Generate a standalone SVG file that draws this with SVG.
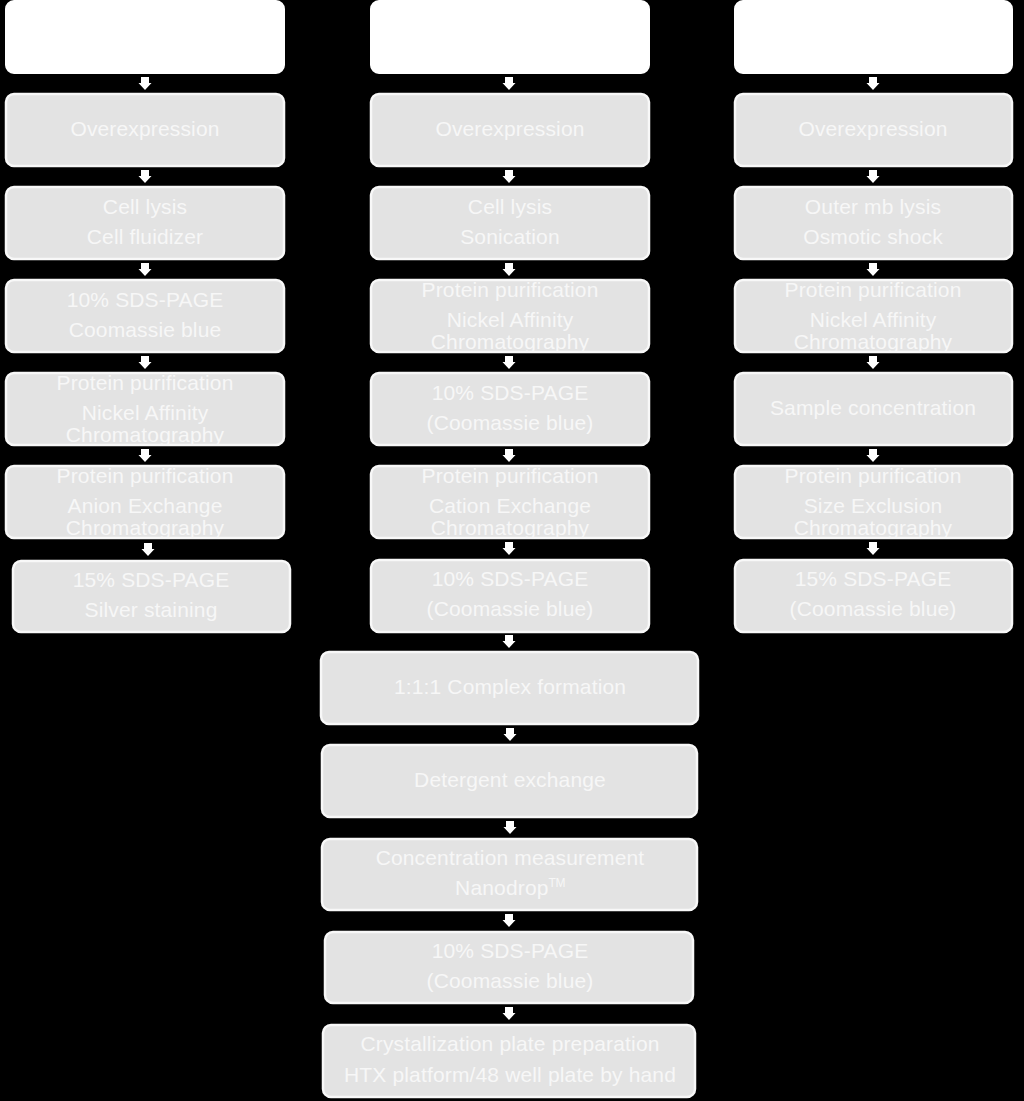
<svg xmlns="http://www.w3.org/2000/svg" width="1024" height="1101" viewBox="0 0 1024 1101">
<style>
.bg{fill:#000}
.hd{fill:#ffffff;stroke:#ffffff;stroke-width:2}
.bx{fill:#e3e3e3;stroke:#f8f8f8;stroke-width:2.5}
text{font-family:"Liberation Sans",Arial,sans-serif;font-size:21px;letter-spacing:0.15px;fill:#f7f7f7;text-anchor:middle}
.ar{fill:#ffffff}
</style>
<defs>
<path id="arr" d="M-4,0 H4 V6 H6.5 L0,13 L-6.5,6 H-4 Z"/>
</defs>
<rect class="bg" x="0" y="0" width="1024" height="1101"/>

<g id="col1">
<g id="c1-head"><rect class="hd" x="6" y="1" width="278" height="72" rx="8"/></g>
<g id="c1-n1"><rect class="bx" x="6" y="94" width="278" height="72" rx="8"/><text x="145" y="136">Overexpression</text></g>
<g id="c1-n2"><rect class="bx" x="6" y="187" width="278" height="72" rx="8"/><text x="145" y="214">Cell lysis</text><text x="145" y="244">Cell fluidizer</text></g>
<g id="c1-n3"><rect class="bx" x="6" y="280" width="278" height="72" rx="8"/><text x="145" y="307">10% SDS-PAGE</text><text x="145" y="337">Coomassie blue</text></g>
<g id="c1-n4"><rect class="bx" x="6" y="373" width="278" height="72" rx="8"/><text x="145" y="390">Protein purification</text><text x="145" y="420">Nickel Affinity</text><text x="145" y="442">Chromatography</text></g>
<g id="c1-n5"><rect class="bx" x="6" y="466" width="278" height="72" rx="8"/><text x="145" y="483">Protein purification</text><text x="145" y="513">Anion Exchange</text><text x="145" y="535">Chromatography</text></g>
<g id="c1-n6"><rect class="bx" x="13" y="561" width="277" height="71" rx="8"/><text x="151" y="587">15% SDS-PAGE</text><text x="151" y="617">Silver staining</text></g>
</g>

<g id="col2">
<g id="c2-head"><rect class="hd" x="371" y="1" width="278" height="72" rx="8"/></g>
<g id="c2-n1"><rect class="bx" x="371" y="94" width="278" height="72" rx="8"/><text x="510" y="136">Overexpression</text></g>
<g id="c2-n2"><rect class="bx" x="371" y="187" width="278" height="72" rx="8"/><text x="510" y="214">Cell lysis</text><text x="510" y="244">Sonication</text></g>
<g id="c2-n3"><rect class="bx" x="371" y="280" width="278" height="72" rx="8"/><text x="510" y="297">Protein purification</text><text x="510" y="327">Nickel Affinity</text><text x="510" y="349">Chromatography</text></g>
<g id="c2-n4"><rect class="bx" x="371" y="373" width="278" height="72" rx="8"/><text x="510" y="400">10% SDS-PAGE</text><text x="510" y="430">(Coomassie blue)</text></g>
<g id="c2-n5"><rect class="bx" x="371" y="466" width="278" height="72" rx="8"/><text x="510" y="483">Protein purification</text><text x="510" y="513">Cation Exchange</text><text x="510" y="535">Chromatography</text></g>
<g id="c2-n6"><rect class="bx" x="371" y="560" width="278" height="72" rx="8"/><text x="510" y="586">10% SDS-PAGE</text><text x="510" y="616">(Coomassie blue)</text></g>
<g id="c2-n7"><rect class="bx" x="321" y="652" width="377" height="72" rx="8"/><text x="510" y="694">1:1:1 Complex formation</text></g>
<g id="c2-n8"><rect class="bx" x="322" y="745" width="375" height="72" rx="8"/><text x="510" y="787">Detergent exchange</text></g>
<g id="c2-n9"><rect class="bx" x="322" y="839" width="375" height="71" rx="8"/><text x="510" y="865">Concentration measurement</text><text x="510" y="895">Nanodrop<tspan font-size="12" letter-spacing="-0.5" dy="-8">TM</tspan></text></g>
<g id="c2-n10"><rect class="bx" x="325" y="932" width="368" height="71" rx="8"/><text x="510" y="958">10% SDS-PAGE</text><text x="510" y="988">(Coomassie blue)</text></g>
<g id="c2-n11"><rect class="bx" x="323" y="1025" width="372" height="72" rx="8"/><text x="510" y="1051">Crystallization plate preparation</text><text x="510" y="1082">HTX platform/48 well plate by hand</text></g>
</g>

<g id="col3">
<g id="c3-head"><rect class="hd" x="735" y="1" width="277" height="72" rx="8"/></g>
<g id="c3-n1"><rect class="bx" x="735" y="94" width="277" height="72" rx="8"/><text x="873" y="136">Overexpression</text></g>
<g id="c3-n2"><rect class="bx" x="735" y="187" width="277" height="72" rx="8"/><text x="873" y="214">Outer mb lysis</text><text x="873" y="244">Osmotic shock</text></g>
<g id="c3-n3"><rect class="bx" x="735" y="280" width="277" height="72" rx="8"/><text x="873" y="297">Protein purification</text><text x="873" y="327">Nickel Affinity</text><text x="873" y="349">Chromatography</text></g>
<g id="c3-n4"><rect class="bx" x="735" y="373" width="277" height="72" rx="8"/><text x="873" y="415">Sample concentration</text></g>
<g id="c3-n5"><rect class="bx" x="735" y="466" width="277" height="72" rx="8"/><text x="873" y="483">Protein purification</text><text x="873" y="513">Size Exclusion</text><text x="873" y="535">Chromatography</text></g>
<g id="c3-n6"><rect class="bx" x="735" y="560" width="277" height="72" rx="8"/><text x="873" y="586">15% SDS-PAGE</text><text x="873" y="616">(Coomassie blue)</text></g>
</g>

<g id="connectors" class="ar">
<use href="#arr" x="145" y="77"/>
<use href="#arr" x="145" y="170"/>
<use href="#arr" x="145" y="263"/>
<use href="#arr" x="145" y="356"/>
<use href="#arr" x="145" y="449"/>
<use href="#arr" x="148" y="543"/>
<use href="#arr" x="509" y="77"/>
<use href="#arr" x="509" y="170"/>
<use href="#arr" x="509" y="263"/>
<use href="#arr" x="509" y="356"/>
<use href="#arr" x="509" y="449"/>
<use href="#arr" x="509" y="542"/>
<use href="#arr" x="509" y="635"/>
<use href="#arr" x="510" y="728"/>
<use href="#arr" x="510" y="821"/>
<use href="#arr" x="509" y="914"/>
<use href="#arr" x="509" y="1007"/>
<use href="#arr" x="873" y="77"/>
<use href="#arr" x="873" y="170"/>
<use href="#arr" x="873" y="263"/>
<use href="#arr" x="873" y="356"/>
<use href="#arr" x="873" y="449"/>
<use href="#arr" x="873" y="542"/>
</g>
</svg>
